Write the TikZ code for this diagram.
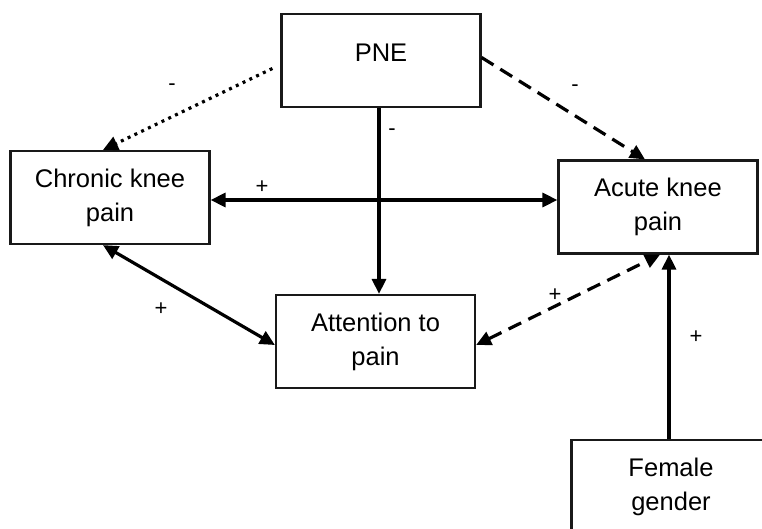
\documentclass[tikz,border=0pt]{standalone}
\usepackage{fontspec}
\setmainfont{Liberation Sans}
\usetikzlibrary{arrows.meta,calc}
\begin{document}
\begin{tikzpicture}[x=1pt,y=-1pt,
  box/.style={draw=black!90,line width=2.2pt,minimum width=199pt,minimum height=93pt,align=center,inner sep=0pt,font=\fontsize{25.5}{34}\selectfont},
  conn/.style={line width=3.2pt,black},
  tip/.style={-{Triangle[length=15pt,width=14pt]}},
  biTip/.style={{Triangle[length=15pt,width=14pt]}-{Triangle[length=15pt,width=14pt]}},
  sign/.style={font=\fontsize{22}{24}\selectfont,inner sep=0pt}]
\useasboundingbox (0,0) rectangle (762,529);
\clip (0,0) rectangle (762,529);
\node[box,text depth=16pt] (pne) at (381,60.5) {PNE};
\node[box] (chronic) at (110,197.5) {Chronic knee\\pain};
\node[box] (acute) at (658,207) {Acute knee\\pain};
\node[box] (att) at (375.5,341.5) {Attention to\\pain};
\node[box] (fem) at (671,486.5) {Female\\gender};
% PNE -> chronic (dotted)
\draw[conn,tip,dash pattern=on 3pt off 4.5pt] ($(pne.west)+(-8,8)$) -- ($(chronic.north)+(-7,0)$);
% PNE -> acute (dashed)
\draw[conn,tip,dash pattern=on 14pt off 8pt] ($(pne.east)+(0,-3)$) -- ($(acute.north)+(-13,0)$);
% PNE -> attention
\draw[conn,tip] ($(pne.south)+(-2,0)$) -- ($(att.north)+(3.5,0)$);
% chronic <-> acute
\draw[conn,biTip] ($(chronic.east)+(0,2.5)$) -- ($(acute.west)+(0,-7)$);
% chronic <-> attention
\draw[conn,biTip] ($(chronic.south)+(-7,0)$) -- ($(att.west)+(0,3.5)$);
% attention <-> acute (dashed)
\draw[conn,biTip,dash pattern=on 14pt off 8pt] ($(att.east)+(0,3.5)$) -- ($(acute.south)+(2,0)$);
% female -> acute
\draw[conn,tip] ($(fem.north)+(-2,0)$) -- ($(acute.south)+(11,0)$);
% signs
\node[sign] (s1) at (172,87) {-};
\node[sign] (s2) at (392,132) {-};
\node[sign] (s3) at (575,88) {-};
\node[sign] (s4) at (262,187) {+};
\node[sign] (s5) at (161,309) {+};
\node[sign] (s6) at (555,295) {+};
\node[sign] (s7) at (696,337) {+};
\end{tikzpicture}
\end{document}
